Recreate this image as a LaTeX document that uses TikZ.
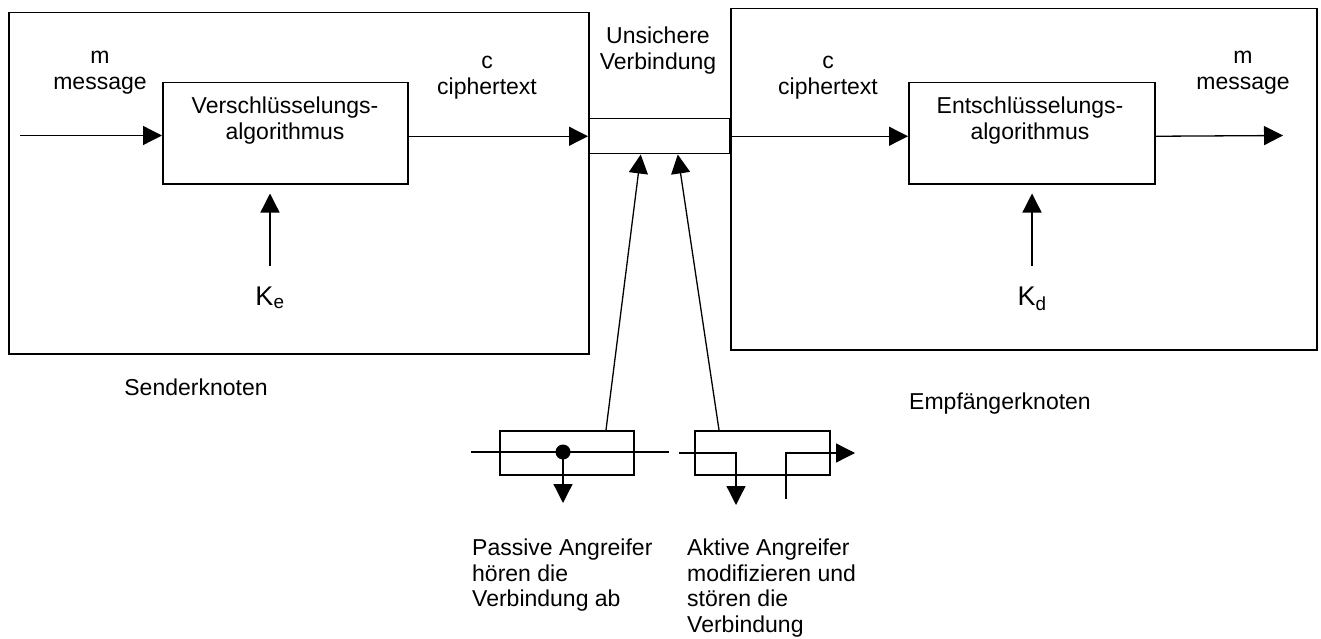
\documentclass[tikz,border=0pt]{standalone}
\usepackage{fontspec}
\setmainfont{Liberation Sans}
\usetikzlibrary{arrows.meta,calc}
\begin{document}
\begin{tikzpicture}[x=1pt,y=-1pt,
  frame/.style={draw, line width=1.5pt, inner sep=0pt, anchor=north west},
  flow/.style={line width=1.3pt, -{Triangle[length=19pt,width=19pt]}},
  wire/.style={line width=1.3pt},
  lbl/.style={font=\fontsize{23}{26}\selectfont, align=center, inner sep=0pt,
              anchor=north, execute at begin node=\strut},
  note/.style={lbl, font=\fontsize{23}{25.5}\selectfont, anchor=north west, align=left},
  keylbl/.style={font=\fontsize{27}{30}\selectfont, inner sep=0pt, anchor=base},
  tapdot/.style={circle, fill, inner sep=0pt, minimum size=15pt}]
\useasboundingbox (0,0) rectangle (1321,639);

% sender and receiver nodes, insecure channel
\node[frame, minimum width=580pt, minimum height=341pt] (sender) at (8,12) {};
\node[frame, minimum width=586pt, minimum height=341pt] (receiver) at (730,8) {};
\node[frame, minimum width=141pt, minimum height=35pt] (channel) at (588,118) {};

% algorithm boxes
\node[frame, minimum width=245pt, minimum height=101pt] (enc) at (162,82) {};
\node[frame, minimum width=246pt, minimum height=101pt] (dec) at (908,82) {};
\node[lbl] (enctext) at (285,97) {Verschlüsselungs-\\algorithmus};
\node[lbl] (dectext) at (1030,97) {Entschlüsselungs-\\algorithmus};

% message flow
\coordinate (min) at (20,135.5);
\coordinate (mout) at (1283,135.5);
\draw[flow] (min) -- (min -| enc.west);
\draw[flow] (channel.west -| enc.east) -- (channel.west);
\draw[flow] (channel.east) -- (channel.east -| dec.west);
\draw[flow] (channel.east -| dec.east) -- (mout);

\node[lbl] (mlabel) at (100,51) {m\\message};
\node[lbl] (clabel) at (487,56) {c\\ciphertext};
\node[lbl] (chlabel) at (658,27) {Unsichere\\Verbindung};
\node[lbl] (c2label) at (828,56) {c\\ciphertext};
\node[lbl] (m2label) at (1243,51) {m\\message};

% keys
\coordinate (kein) at (270,266);
\coordinate (kdin) at (1032,266);
\draw[flow, shorten >=9pt] (kein) -- (kein |- enc.south);
\draw[flow, shorten >=9pt] (kdin) -- (kdin |- dec.south);
\node[keylbl] (ke) at (270,305) {K\textsubscript{e}};
\node[keylbl] (kd) at (1032,305) {K\textsubscript{d}};

\node[lbl, anchor=base] (senderlabel) at (196,395) {Senderknoten};
\node[lbl, anchor=base] (receiverlabel) at (1000,409) {Empfängerknoten};

% passive attacker: taps the line
\node[frame, minimum width=134pt, minimum height=44pt] (pbox) at (499,430) {};
\coordinate (pin) at (471,452);
\coordinate (pout) at (669,452);
\draw[wire] (pin) -- (pout);
\node[tapdot] (tap) at (563,452) {};
\coordinate (tapend) at (563,503);
\draw[flow] (tap.center) -- (tapend);

% active attacker: cuts the line and injects
\node[frame, minimum width=135pt, minimum height=44pt] (abox) at (694,430) {};
\coordinate (ain) at (679,453);
\coordinate (adrop) at (736,505);
\draw[flow] (ain) -| (adrop);
\coordinate (afeed) at (786,499);
\coordinate (aout) at (855,453);
\draw[flow] (afeed) |- (aout);

% attacks on the channel
\draw[flow] ($(pbox.north west)+(107,0)$) -- ($(channel.south)+(-18.5,0)$);
\draw[flow] ($(abox.north west)+(25,0)$) -- ($(channel.south)+(18.5,0)$);

\node[note] (passivetext) at (472,539)
  {Passive Angreifer\\hören die\\Verbindung ab};
\node[note] (activetext) at (687,539)
  {Aktive Angreifer\\modifizieren und\\stören die\\Verbindung};
\end{tikzpicture}
\end{document}
